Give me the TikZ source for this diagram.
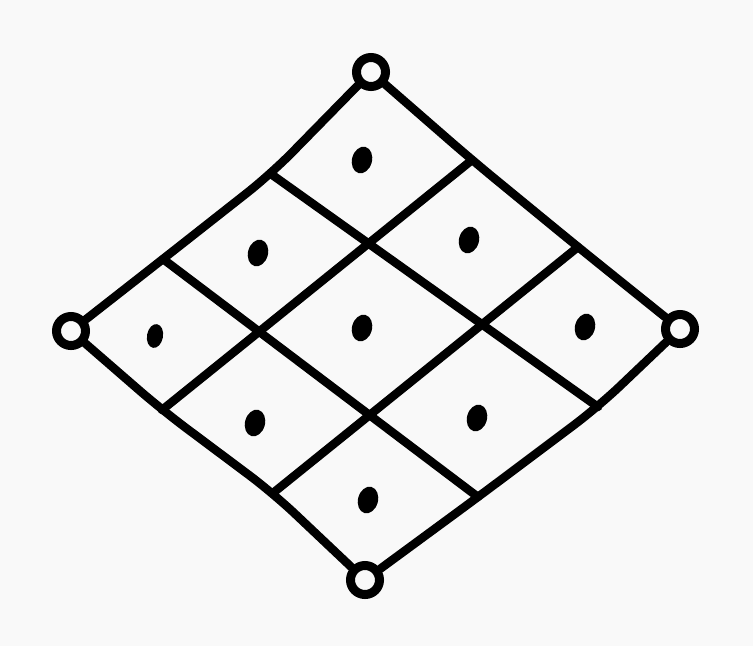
\documentclass[tikz,border=0pt]{standalone}
\usepackage{xcolor}
\usepackage{tikz}
\usetikzlibrary{shapes.geometric}

\definecolor{paper}{gray}{0.975}

\begin{document}
\begin{tikzpicture}[
        x=1pt, y=-1pt,
        % outline and grid strokes
        stroke/.style={
            line width=8.5pt,
            line cap=round,
            line join=round
        },
        % hand-drawn outline bends softly at the junctions
        outline/.style={
            stroke,
            rounded corners=30pt
        },
        % open rings at the four corners
        ring/.style={
            circle,
            draw=black,
            line width=9pt,
            fill=paper,
            minimum size=29pt,
            inner sep=0pt
        },
        % filled dot in every cell
        dot/.style={
            ellipse,
            fill=black,
            minimum width=20pt,
            minimum height=27pt,
            inner sep=0pt,
            rotate=-15
        }
    ]

    % paper
    \fill[paper] (0,0) rectangle (753,646);
    \useasboundingbox (0,0) rectangle (753,646);

    % 1. junctions on the outline
    \coordinate (lt1) at (163,259);
    \coordinate (lt2) at (271,174);
    \coordinate (tr1) at (472,160);
    \coordinate (tr2) at (578,247);
    \coordinate (rb1) at (598,407);
    \coordinate (rb2) at (478,497);
    \coordinate (lb1) at (162,410);
    \coordinate (lb2) at (273,493);

    % 2. corner rings
    \node[ring] (top) at (371,72) {};
    \node[ring] (right) at (680,329) {};
    \node[ring] (bottom) at (365,580) {};
    \node[ring] (left) at (71,331) {};

    % 3. outline
    \draw[outline] (left) -- (lt1) -- (lt2) -- (top);
    \draw[outline] (top) -- (tr1) -- (tr2) -- (right);
    \draw[outline] (right) -- (rb1) -- (rb2) -- (bottom);
    \draw[outline] (bottom) -- (lb2) -- (lb1) -- (left);

    % 4. inner grid
    \draw[stroke] (lt1) -- (rb2);
    \draw[stroke] (lt2) -- (rb1);
    \draw[stroke] (lb1) -- (tr1);
    \draw[stroke] (lb2) -- (tr2);

    % 5. dots
    \foreach \name/\pos in {c1/{(362,160)}, c2/{(258,253)}, c3/{(469,240)},
                            c5/{(362,328)}, c6/{(585,327)},
                            c7/{(255,423)}, c8/{(477,418)}, c9/{(368,500)}}
        \node[dot] (\name) at \pos {};
    \node[dot, minimum width=16pt, minimum height=24pt, rotate=5] (c4) at (155,336) {};

\end{tikzpicture}
\end{document}
